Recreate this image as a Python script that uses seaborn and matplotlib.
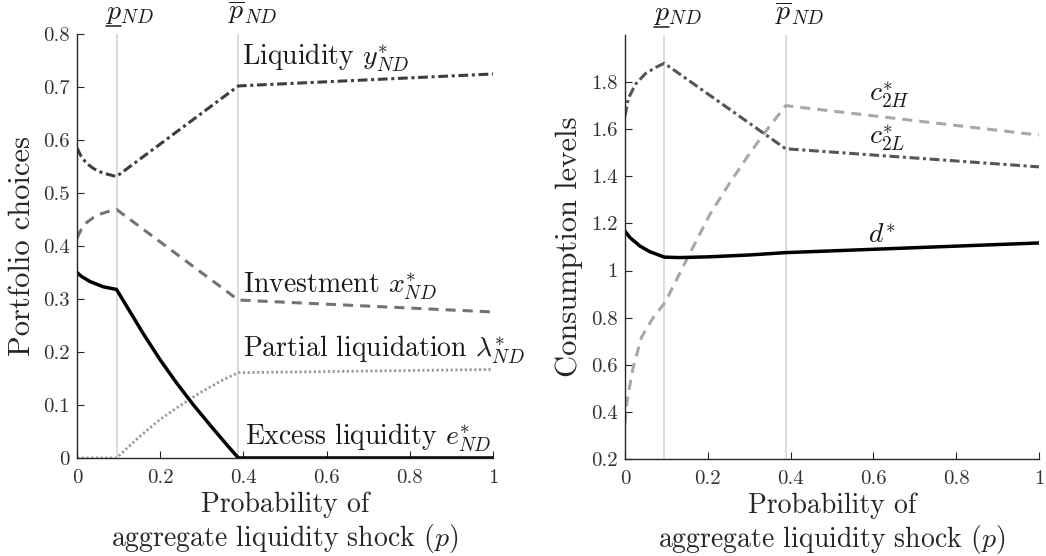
import numpy as np
import pandas as pd
import matplotlib as mpl
import matplotlib.pyplot as plt
import seaborn as sns

mpl.use("Agg")

# thresholds
p_low = 0.095
p_high = 0.388

# left panel: portfolio choices
p_liq = [0, 0.01, 0.023, 0.04, 0.055, 0.075, 0.095, 0.388, 1.0]
liquidity = [0.585, 0.569, 0.556, 0.546, 0.540, 0.535, 0.531, 0.702, 0.7245]
investment = [0.415, 0.431, 0.444, 0.454, 0.460, 0.465, 0.469, 0.298, 0.2755]

p_exc = [0, 0.01, 0.031, 0.063, 0.095, 0.159, 0.2, 0.24, 0.28, 0.32, 0.36, 0.388, 1.0]
excess = [0.350, 0.343, 0.333, 0.323, 0.318, 0.235, 0.185, 0.141, 0.100, 0.062, 0.025, 0.0, 0.0]

p_lam = [0, 0.095, 0.15, 0.2, 0.25, 0.3, 0.35, 0.388, 1.0]
partial = [0, 0, 0.040, 0.073, 0.100, 0.125, 0.147, 0.161, 0.167]

# right panel: consumption levels
p_c2L = [0, 0.008, 0.025, 0.05, 0.075, 0.095, 0.388, 1.0]
c2L = [1.655, 1.73, 1.79, 1.837, 1.863, 1.880, 1.517, 1.44]

p_c2H = [0, 0.003, 0.008, 0.02, 0.04, 0.068, 0.097, 0.15, 0.205, 0.25, 0.3, 0.334, 0.388, 1.0]
c2H = [0.35, 0.42, 0.478, 0.59, 0.717, 0.80, 0.865, 1.05, 1.238, 1.364, 1.494, 1.577, 1.70, 1.575]

p_d = [0, 0.012, 0.036, 0.06, 0.095, 0.13, 0.2, 0.3, 0.388, 1.0]
d = [1.167, 1.14, 1.104, 1.08, 1.057, 1.055, 1.058, 1.066, 1.076, 1.117]

x_ticks = [0, 0.2, 0.4, 0.6, 0.8, 1]
x_ticklabels = ["0", "0.2", "0.4", "0.6", "0.8", "1"]
y_ticks_left = [0, 0.1, 0.2, 0.3, 0.4, 0.5, 0.6, 0.7, 0.8]
y_ticklabels_left = ["0", "0.1", "0.2", "0.3", "0.4", "0.5", "0.6", "0.7", "0.8"]
y_ticks_right = [0.2, 0.4, 0.6, 0.8, 1.0, 1.2, 1.4, 1.6, 1.8]
y_ticklabels_right = ["0.2", "0.4", "0.6", "0.8", "1", "1.2", "1.4", "1.6", "1.8"]

sns.set_theme(style="ticks")
plt.rcParams.update({
    "font.family": "serif",
    "font.serif": ["cmr10"],
    "mathtext.fontset": "cm",
    "axes.formatter.use_mathtext": True,
    "axes.unicode_minus": False,
})

DASH = (0, (3.3, 2.3))
DASHDOT = (0, (3.2, 1.2, 1.0, 1.2))
DOT = (0, (0.8, 0.9))

fig = plt.figure(figsize=(10.46, 5.56), dpi=100)
ax1 = fig.add_axes([0.0736, 0.1763, 0.3977, 0.7626])
ax2 = fig.add_axes([0.5975, 0.1745, 0.3958, 0.7626])

for ax in (ax1, ax2):
    ax.axvline(p_low, color="#d6d6d6", lw=1.2, zorder=0)
    ax.axvline(p_high, color="#d6d6d6", lw=1.2, zorder=0)

sns.lineplot(x=p_liq, y=liquidity, ax=ax1, color="#3d3d3d", lw=2.2, linestyle=DASHDOT, sort=False, estimator=None)
sns.lineplot(x=p_liq, y=investment, ax=ax1, color="#737373", lw=2.2, linestyle=DASH, sort=False, estimator=None)
sns.lineplot(x=p_lam, y=partial, ax=ax1, color="#9a9a9a", lw=2.0, linestyle=DOT, sort=False, estimator=None)
sns.lineplot(x=p_exc, y=excess, ax=ax1, color="black", lw=2.5, sort=False, estimator=None)

sns.lineplot(x=p_c2H, y=c2H, ax=ax2, color="#a8a8a8", lw=2.2, linestyle=DASH, sort=False, estimator=None)
sns.lineplot(x=p_c2L, y=c2L, ax=ax2, color="#555555", lw=2.2, linestyle=DASHDOT, sort=False, estimator=None)
sns.lineplot(x=p_d, y=d, ax=ax2, color="black", lw=2.5, sort=False, estimator=None)

txt = dict(fontsize=20, color="#1a1a1a", ha="left", va="baseline")
ax1.text(0.396, 0.7415, r"Liquidity $y^{*}_{ND}$", **txt)
ax1.text(0.398, 0.3107, r"Investment $x^{*}_{ND}$", **txt)
ax1.text(0.398, 0.190, r"Partial liquidation $\lambda^{*}_{ND}$", **txt)
ax1.text(0.404, 0.0245, r"Excess liquidity $e^{*}_{ND}$", **txt)

ax2.text(0.590, 1.722, r"$c^{*}_{2H}$", **txt)
ax2.text(0.590, 1.539, r"$c^{*}_{2L}$", **txt)
ax2.text(0.588, 1.118, r"$d^{*}$", **txt)

for ax in (ax1, ax2):
    tr = ax.get_xaxis_transform()
    ax.text(p_low - 0.026, 1.036, r"$p_{ND}$", transform=tr, fontsize=20,
            color="#1a1a1a", ha="left", va="baseline")
    ax.plot([p_low - 0.025, p_low + 0.011], [1.018, 1.018], transform=tr,
            color="#1a1a1a", lw=1.1, clip_on=False)
    ax.text(p_high - 0.026, 1.036, r"$\overline{p}_{ND}$", transform=tr, fontsize=20,
            color="#1a1a1a", ha="left", va="baseline")

    ax.set_xlim(0, 1)
    ax.set_xticks(x_ticks)
    ax.set_xticklabels(x_ticklabels)
    sns.despine(ax=ax)
    for s in ("left", "bottom"):
        ax.spines[s].set_color("#262626")
        ax.spines[s].set_linewidth(1.0)
    ax.tick_params(direction="in", length=5, width=0.8, color="#262626",
                   labelsize=15, labelcolor="#333333")
    ax.tick_params(axis="x", pad=8)
    ax.tick_params(axis="y", pad=5)
    ax.set_xlabel("Probability of\naggregate liquidity shock ($p$)", fontsize=20,
                  color="#262626", linespacing=1.2)
    ax.xaxis.set_label_coords(0.5, -0.078)

ax1.set_ylim(0, 0.8)
ax1.set_yticks(y_ticks_left)
ax1.set_yticklabels(y_ticklabels_left)
ax1.set_ylabel("Portfolio choices", fontsize=22, color="#262626")
ax1.yaxis.set_label_coords(-0.099, 0.5)

ax2.set_ylim(0.2, 2.0)
ax2.set_yticks(y_ticks_right)
ax2.set_yticklabels(y_ticklabels_right)
ax2.set_ylabel("Consumption levels", fontsize=22, color="#262626")
ax2.yaxis.set_label_coords(-0.101, 0.5)

fig.savefig("out.png", dpi=100)
